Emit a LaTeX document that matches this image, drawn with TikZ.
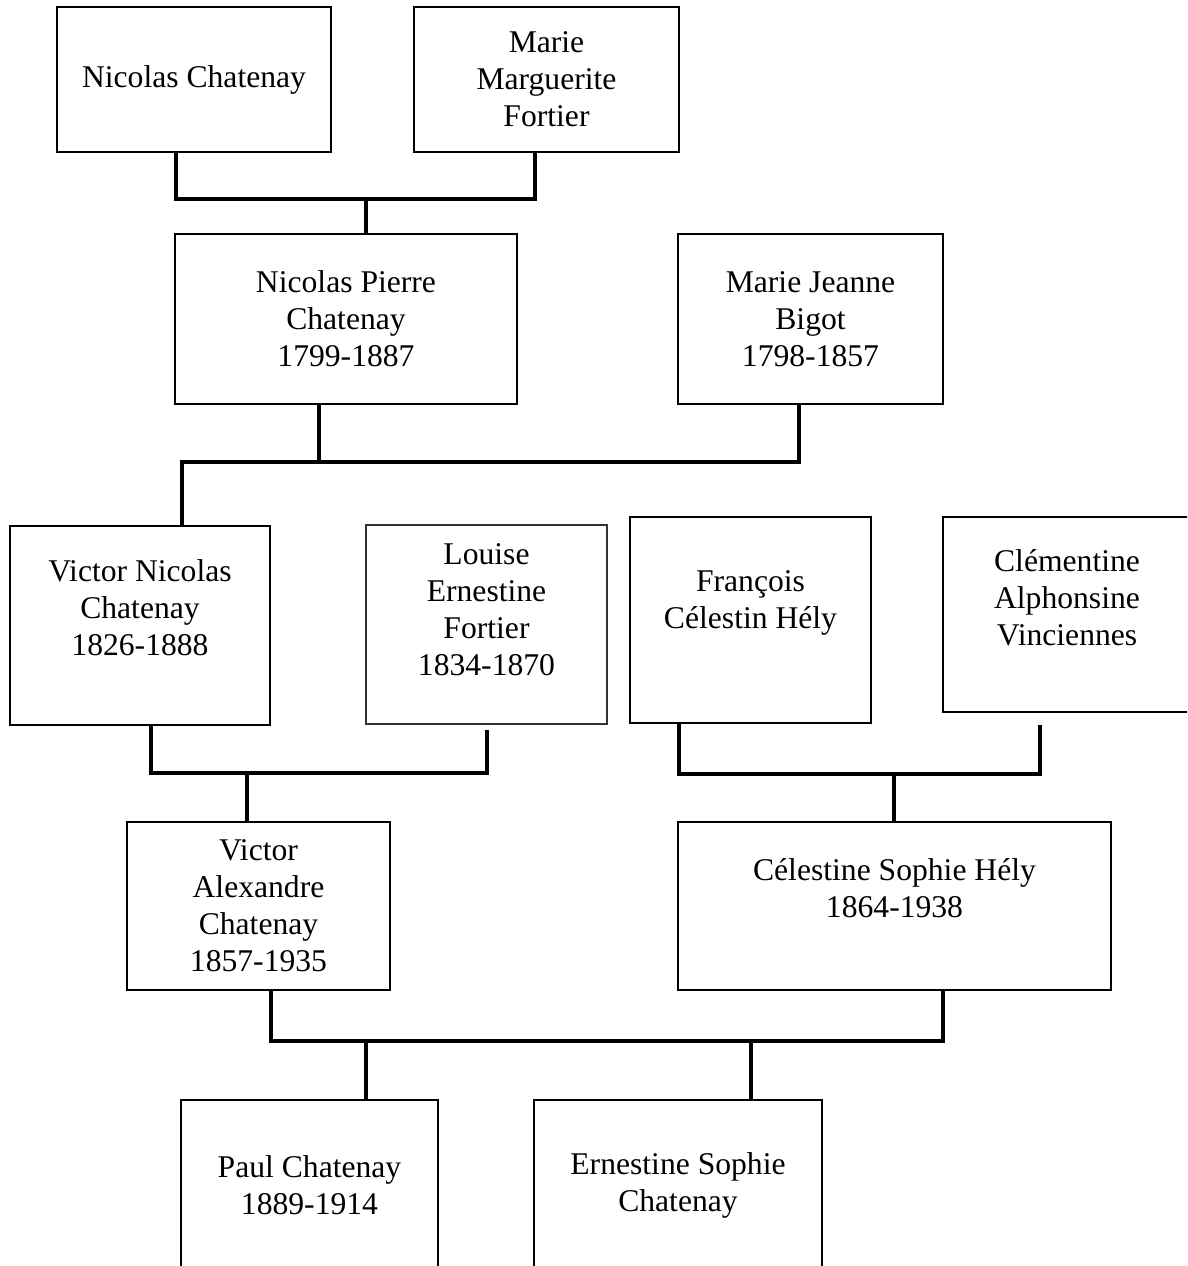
\documentclass[tikz,border=0pt]{standalone}
\usepackage{fontspec}
\setmainfont{Liberation Serif}
\tikzset{
  person/.style 2 args={draw, line width=1.2pt, minimum width=#1cm, minimum height=#2cm, inner sep=0pt, align=center},
  faint/.style={line width=0.7pt, draw=black!80},
  raised/.style={align=center, yshift=#1},
  link/.style={line width=2.1pt},
}
\begin{document}
\begin{tikzpicture}[x=0.02cm, y=-0.02cm, font=\fontsize{18}{21}\selectfont]
  \useasboundingbox (0,0) rectangle (1187,1266);
  \clip (0,0) rectangle (1187,1266);
  % first generation
  \node[person={5.48}{2.9}] (nc) at (194,79.5) {Nicolas Chatenay};
  \node[person={5.3}{2.9}] (mmf) at (546.5,79.5) {Marie\\Marguerite\\Fortier};
  % second generation
  \node[person={6.84}{3.4}] (npc) at (346,319) {Nicolas Pierre\\Chatenay\\1799-1887};
  \node[person={5.3}{3.4}] (mjb) at (810.5,319) {Marie Jeanne\\Bigot\\1798-1857};
  % third generation
  \node[person={5.2}{3.98}, label={[raised=0.35cm, name=vnc-t]center:{Victor Nicolas\\Chatenay\\1826-1888}}] (vnc) at (140,625.5) {};
  \node[person={4.82}{3.98}, faint, label={[raised=0.29cm, name=lef-t]center:{Louise\\Ernestine\\Fortier\\1834-1870}}] (lef) at (486.5,624.5) {};
  \node[person={4.82}{4.12}, label={[raised=0.35cm, name=fch-t]center:{François\\Célestin Hély}}] (fch) at (750.5,620) {};
  \node[person={4.96}{3.9}, label={[raised=0.34cm, name=cav-t]center:{Clémentine\\Alphonsine\\Vinciennes}}] (cav) at (1067,614.5) {};
  % fourth generation
  \node[person={5.26}{3.36}] (vac) at (258.5,906) {Victor\\Alexandre\\Chatenay\\1857-1935};
  \node[person={8.66}{3.36}, label={[raised=0.35cm, name=csh-t]center:{Célestine Sophie Hély\\1864-1938}}] (csh) at (894.5,906) {};
  % children
  \node[person={5.14}{3.4}] (pc) at (309.5,1185) {Paul Chatenay\\1889-1914};
  \node[person={5.76}{3.4}] (esc) at (678,1185) {Ernestine Sophie\\Chatenay};
  % junctions
  \coordinate (b1) at (366,199);
  \coordinate (b2) at (319,462);
  \coordinate (b3) at (247,773);
  \coordinate (b4) at (894,774);
  \coordinate (b5) at (366,1041);
  \coordinate (b6) at (751,1041);
  % links
  \draw[link] (nc.south -| 176,0) |- (b1) -| (mmf.south -| 535,0);
  \draw[link] (b1) -- (npc.north -| b1);
  \draw[link] (vnc.north -| 182,0) |- (b2) -| (mjb.south -| 799,0);
  \draw[link] (npc.south -| b2) -- (b2);
  \draw[link] (vnc.south -| 151,0) |- (b3) -| ([yshift=-0.1cm]lef.south -| 487,0);
  \draw[link] (b3) -- (vac.north -| b3);
  \draw[link] (fch.south -| 679,0) |- (b4) -| ([yshift=-0.24cm]cav.south -| 1040,0);
  \draw[link] (b4) -- (csh.north -| b4);
  \draw[link] (vac.south -| 271,0) |- (b5) -- (b6) -| (csh.south -| 943,0);
  \draw[link] (b5) -- (pc.north -| b5);
  \draw[link] (b6) -- (esc.north -| b6);
\end{tikzpicture}
\end{document}
